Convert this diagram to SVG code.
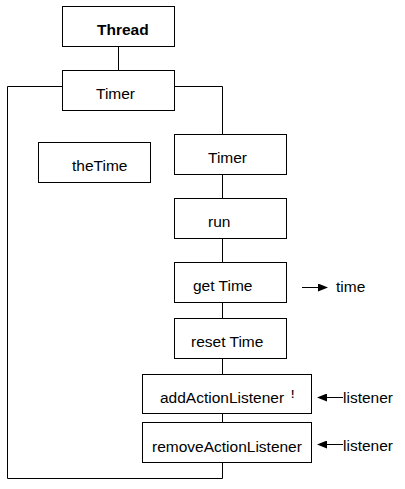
<svg xmlns="http://www.w3.org/2000/svg" width="405" height="489" viewBox="0 0 405 489">
<defs>
<style>
.box{fill:#fff;stroke:#000;stroke-width:1}
.t{font-family:"Liberation Sans",Arial,sans-serif;font-size:15.5px;fill:#000}
.b{font-weight:bold}
.ln{fill:none;stroke:#000;stroke-width:1}
</style>
<marker id="ah" markerWidth="10" markerHeight="8" refX="9" refY="4" orient="auto" markerUnits="userSpaceOnUse">
<path d="M0,0 L10,4 L0,8 Z" fill="#000"/>
</marker>
</defs>
<rect width="405" height="489" fill="#fff"/>
<g id="connectors">
<path class="ln" d="M118.5,46 V70"/>
<path class="ln" d="M62,86.5 H7.5 V478.5 H222.5 V462"/>
<path class="ln" d="M175,86.5 H222.5 V134"/>
<path class="ln" d="M222.5,174 V198"/>
<path class="ln" d="M222.5,238 V262"/>
<path class="ln" d="M222.5,302 V318"/>
<path class="ln" d="M222.5,358 V374"/>
<path class="ln" d="M222.5,413 V422"/>
<path class="ln" d="M302,287.5 H327" marker-end="url(#ah)"/>
<path class="ln" d="M343,397.5 H318" marker-end="url(#ah)"/>
<path class="ln" d="M343,444.5 H318" marker-end="url(#ah)"/>
</g>
<g id="thread"><rect class="box" x="62.5" y="6.5" width="112" height="40"/><text class="t b" x="97" y="35">Thread</text></g>
<g id="timer1"><rect class="box" x="62.5" y="70.5" width="112" height="40"/><text class="t" x="96" y="99">Timer</text></g>
<g id="thetime"><rect class="box" x="38.5" y="142.5" width="112" height="40"/><text class="t" x="72" y="171">theTime</text></g>
<g id="timer2"><rect class="box" x="174.5" y="134.5" width="112" height="40"/><text class="t" x="208" y="163">Timer</text></g>
<g id="run"><rect class="box" x="174.5" y="198.5" width="112" height="40"/><text class="t" x="208" y="227">run</text></g>
<g id="gettime"><rect class="box" x="174.5" y="262.5" width="112" height="40"/><text class="t" x="193" y="291">get Time</text></g>
<g id="time"><text class="t" x="336" y="292">time</text></g>
<g id="resettime"><rect class="box" x="174.5" y="318.5" width="112" height="40"/><text class="t" x="191" y="347">reset Time</text></g>
<g id="add"><rect class="box" x="142.5" y="374.5" width="169" height="39"/><text class="t" x="160" y="403">addActionListener</text><text class="t b" x="291" y="398" style="font-size:10px">!</text></g>
<g id="remove"><rect class="box" x="142.5" y="422.5" width="169" height="40"/><text class="t" x="152" y="452">removeActionListener</text></g>
<g id="listener1"><text class="t" x="343" y="403">listener</text></g>
<g id="listener2"><text class="t" x="343" y="451">listener</text></g>
</svg>
